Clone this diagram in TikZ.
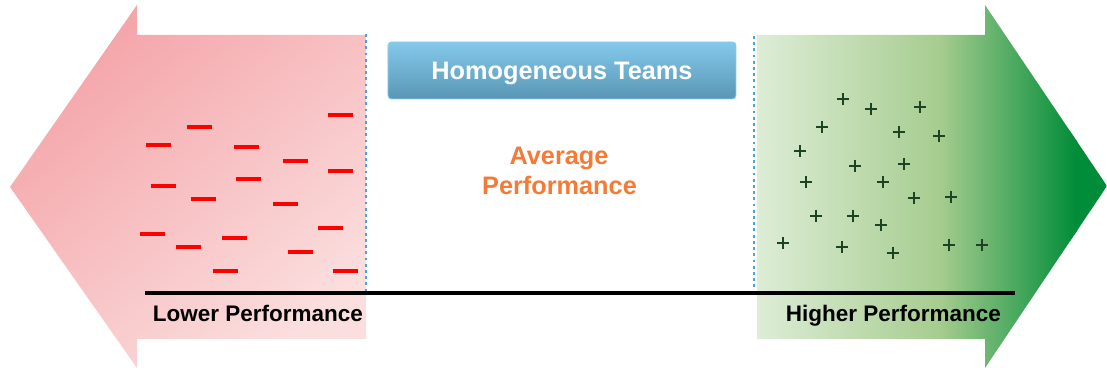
\documentclass[tikz,border=0pt]{standalone}
\usepackage{fontspec}
\setmainfont{Liberation Sans}

\definecolor{pinkdark}{HTML}{F4A4A8}
\definecolor{pinklight}{HTML}{FBDEDE}
\definecolor{greenlight}{HTML}{DDEDD6}
\definecolor{greenmid}{HTML}{A6CC8F}
\definecolor{greendark}{HTML}{008C38}
\definecolor{teamtop}{HTML}{84C9EB}
\definecolor{teambottom}{HTML}{5A96B5}
\definecolor{teamedge}{HTML}{8DCDEE}
\definecolor{splitblue}{HTML}{45A6E0}
\definecolor{avgorange}{HTML}{F47B36}
\definecolor{minusred}{HTML}{FF0000}
\definecolor{plusgreen}{HTML}{1C4422}

\tikzset{
  divider/.style={splitblue, line width=2.4pt, dash pattern=on 2.4pt off 2.9pt},
  minusbar/.style={minusred, line width=2.8pt},
  plusbar/.style={plusgreen, line width=1.9pt},
  perflabel/.style={anchor=base, font=\fontsize{19.2}{23}\selectfont\bfseries},
  avglabel/.style={anchor=base, text=avgorange, font=\fontsize{21.6}{25}\selectfont\bfseries}
}

\begin{document}
\begin{tikzpicture}[x=0.03cm, y=-0.03cm, line join=round]
      \useasboundingbox (0,0) rectangle (1107,373);
      \def\ytop{35}
      \def\ybot{339}
      \def\yhtop{5}
      \def\yhbot{368}
      \def\ymid{187}

      % left arrow (lower performance)
      \coordinate (LT) at (10,\ymid);
      \coordinate (LA) at (137,\yhtop);
      \coordinate (LB) at (137,\ytop);
      \coordinate (LC) at (366,\ytop);
      \coordinate (LD) at (366,\ybot);
      \coordinate (LE) at (137,\ybot);
      \coordinate (LF) at (137,\yhbot);
      \shade[top color=pinkdark, bottom color=pinklight, shading angle=40]
        (LT)--(LA)--(LB)--(LC)--(LD)--(LE)--(LF)--cycle;

      % right arrow (higher performance), dark tip, shaded body
      \coordinate (RT) at (1107,186);
      \coordinate (RA) at (985,\yhtop);
      \coordinate (RB) at (985,\ytop);
      \coordinate (RC) at (757,\ytop);
      \coordinate (RD) at (757,\ybot);
      \coordinate (RE) at (985,\ybot);
      \coordinate (RF) at (985,\yhbot);
      \begin{scope}
        \clip (RC)--(RB)--(RA)--(RT)--(RF)--(RE)--(RD)--cycle;
        \fill[greendark] (1070,0) rectangle (1107,373);
        \shade[left color=greenlight, right color=greenmid] (757,0) rectangle (941,373);
        \shade[left color=greenmid, right color=greendark] (940,0) rectangle (1077,373);
      \end{scope}

      % dotted separators and the scale line
      \coordinate (SL1) at (366,34);
      \coordinate (SL2) at (366,291);
      \coordinate (SR1) at (754,36);
      \coordinate (SR2) at (754,289);
      \draw[divider] (SL1) -- (SL2);
      \draw[divider] (SR1) -- (SR2);
      \coordinate (AX1) at (145,293);
      \coordinate (AX2) at (1015,293);
      \draw[line width=2.6pt] (AX1) -- (AX2);

      % minus marks
      \foreach \x/\y in {340/115, 199/127, 158/145, 246/147, 295/161, 340/171,
                         248/179, 163/186, 203/199, 285/204, 330/228, 152/234,
                         234/238, 188/247, 300/252, 225/271, 345/271}
        \draw[minusbar] (\x-12.5,\y) -- (\x+12.5,\y);

      % plus marks
      \foreach \x/\y in {843/99, 871/109, 920/107, 822/127, 899/132, 939/136,
                         800/151, 855/166, 904/164, 806/182, 883/182, 914/198,
                         951/197, 816/216, 853/216, 881/225, 783/243, 842/247,
                         893/253, 949/245, 982/245}
        \draw[plusbar] (\x-6,\y) -- (\x+6,\y) (\x,\y-6) -- (\x,\y+6);

      % title box
      \node[draw=teamedge, line width=0.8pt, rounded corners=3pt,
            top color=teamtop, bottom color=teambottom,
            minimum width=10.44cm, minimum height=1.71cm, inner sep=0pt,
            text=white, text depth=0pt, font=\fontsize{21.6}{25}\selectfont\bfseries]
        (teams) at (562,70.5) {Homogeneous Teams};

      \node[avglabel] (avg) at (559,165) {Average};
      \node[avglabel] (avgperf) at (559.5,195) {Performance};

      \node[perflabel] (lower) at (258,322) {Lower Performance};
      \node[perflabel] (higher) at (893.5,322) {Higher Performance};
\end{tikzpicture}
\end{document}
